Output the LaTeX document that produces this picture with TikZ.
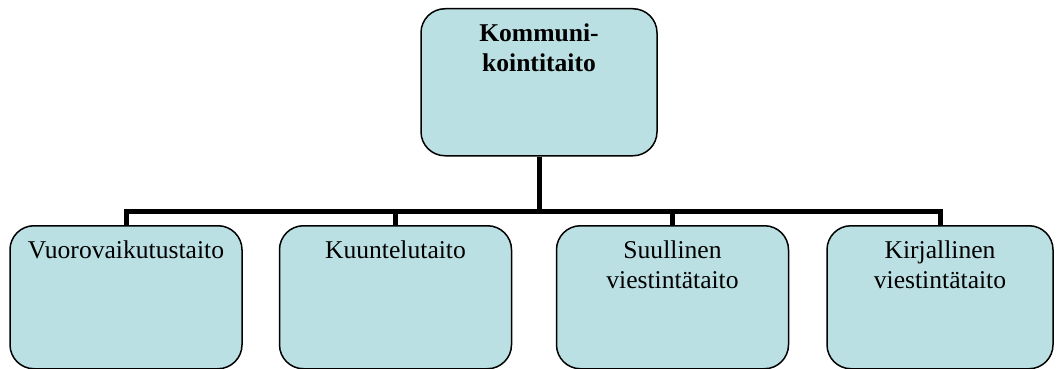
\documentclass[tikz,border=0pt]{standalone}
\usepackage{fontspec}
\setmainfont{Liberation Serif}
\definecolor{boxfill}{RGB}{187,224,227}
\newcommand{\boxtext}[3]{\parbox[t][#2][t]{#1}{\centering\rule{0pt}{33pt}#3}}

\begin{document}
\begin{tikzpicture}[x=1pt,y=1pt]
\tikzset{
    skillbox/.style={draw, line width=1.5pt, fill=boxfill, rounded corners=24pt,
        inner sep=0pt, anchor=north, font=\fontsize{25.6pt}{30pt}\selectfont},
    link/.style={line width=5pt}
}
\useasboundingbox (0,0) rectangle (1061,-369);
% top box
    \node[skillbox] (top) at (539,-8) {\boxtext{236pt}{147pt}{\bfseries Kommuni-\\kointitaito}};
    % skill boxes
    \node[skillbox] (vuoro) at (126,-225) {\boxtext{232pt}{143pt}{Vuorovaikutustaito}};
    \node[skillbox] (kuunt) at (395.5,-225) {\boxtext{232pt}{143pt}{Kuuntelutaito}};
    \node[skillbox] (suul) at (672.5,-225) {\boxtext{232pt}{143pt}{Suullinen\\viestintätaito}};
    \node[skillbox] (kirj) at (940,-225) {\boxtext{226pt}{143pt}{Kirjallinen\\viestintätaito}};
    % connectors
    \coordinate (bus) at (0,-211);
    \draw[link] (top.south) -- (top.south |- bus) -| (vuoro.north);
    \draw[link] (top.south |- bus) -| (kuunt.north);
    \draw[link] (top.south |- bus) -| (suul.north);
    \draw[link] (top.south |- bus) -| (kirj.north);
\end{tikzpicture}
\end{document}
